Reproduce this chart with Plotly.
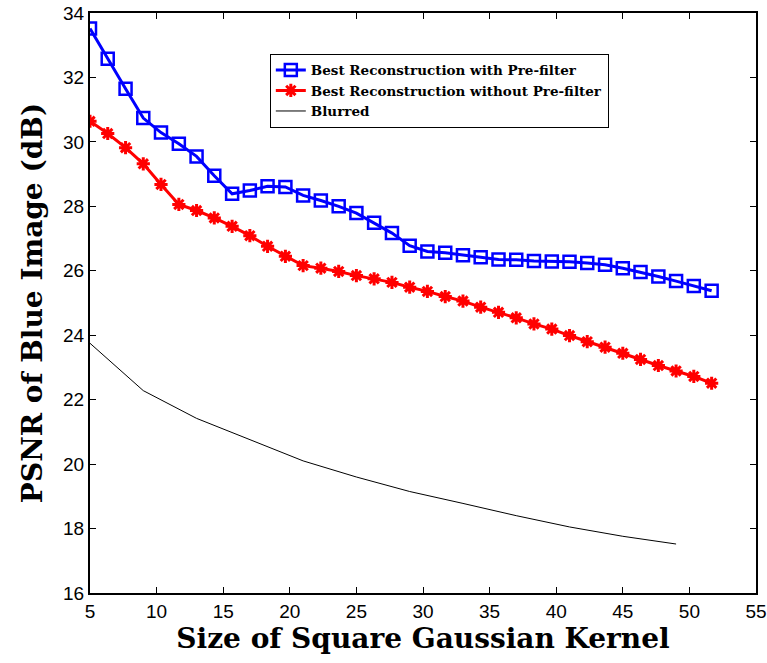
import plotly.graph_objects as go

kernel_size = [5, 6.33, 7.67, 9, 10.33, 11.67, 13, 14.33, 15.67, 17, 18.33, 19.67,
               21, 22.33, 23.67, 25, 26.33, 27.67, 29, 30.33, 31.67, 33, 34.33, 35.67,
               37, 38.33, 39.67, 41, 42.33, 43.67, 45, 46.33, 47.67, 49, 50.33, 51.67]

psnr_with_prefilter = [33.52, 32.58, 31.65, 30.74, 30.29, 29.94, 29.55, 28.95, 28.39, 28.49, 28.62, 28.60,
                       28.34, 28.18, 28.00, 27.79, 27.49, 27.17, 26.78, 26.60, 26.56, 26.48, 26.42, 26.35,
                       26.34, 26.30, 26.29, 26.28, 26.24, 26.19, 26.08, 25.96, 25.82, 25.68, 25.53, 25.38]

psnr_without_prefilter = [30.64, 30.26, 29.82, 29.32, 28.68, 28.06, 27.87, 27.64, 27.38, 27.09, 26.76, 26.45,
                          26.16, 26.08, 25.98, 25.85, 25.75, 25.64, 25.49, 25.36, 25.20, 25.06, 24.87, 24.71,
                          24.54, 24.35, 24.19, 23.99, 23.80, 23.63, 23.44, 23.25, 23.06, 22.89, 22.72, 22.51]

blurred_size = [5, 9, 13, 17, 21, 25, 29, 33, 37, 41, 45, 49]
psnr_blurred = [23.75, 22.28, 21.42, 20.77, 20.10, 19.60, 19.15, 18.78, 18.40, 18.05, 17.76, 17.52]

x_ticks = [5, 10, 15, 20, 25, 30, 35, 40, 45, 50, 55]
y_ticks = [16, 18, 20, 22, 24, 26, 28, 30, 32, 34]

fig = go.Figure()
fig.add_trace(go.Scatter(
    x=kernel_size, y=psnr_with_prefilter, mode="lines+markers",
    name="Best Reconstruction with Pre-filter",
    line=dict(color="#0000ff", width=3),
    marker=dict(symbol="square-open", size=12, color="#0000ff", line=dict(width=2.5, color="#0000ff")),
))
fig.add_trace(go.Scatter(
    x=kernel_size, y=psnr_without_prefilter, mode="lines+markers",
    name="Best Reconstruction without Pre-filter",
    line=dict(color="#ff0000", width=3),
    marker=dict(symbol="asterisk-open", size=11, color="#ff0000", line=dict(width=3, color="#ff0000")),
))
fig.add_trace(go.Scatter(
    x=blurred_size, y=psnr_blurred, mode="lines",
    name="Blurred",
    line=dict(color="#000000", width=1),
))

axis_common = dict(
    showgrid=False, zeroline=False, showline=True, linecolor="black", linewidth=2,
    ticks="inside", ticklen=6, tickwidth=1, tickcolor="black", mirror="ticks",
    automargin=False,
    tickfont=dict(family="Liberation Sans", size=19, color="black"),
)

title_font = dict(family="DejaVu Serif", size=28, color="black", weight="bold")

fig.update_layout(
    width=767, height=663,
    margin=dict(l=90, r=11, t=13, b=70),
    paper_bgcolor="white", plot_bgcolor="white",
    showlegend=True,
    legend=dict(
        x=0.27, y=0.93, xanchor="left", yanchor="top",
        bgcolor="white", bordercolor="black", borderwidth=1,
        font=dict(family="DejaVu Serif", size=13.5, color="black", weight="bold"),
        tracegroupgap=0, itemwidth=30,
    ),
    xaxis=dict(range=[5, 55], tickvals=x_ticks,
               title=dict(text="Size of Square Gaussian Kernel", font=title_font, standoff=8),
               **axis_common),
    yaxis=dict(range=[16, 34], tickvals=y_ticks,
               title=dict(text="PSNR of Blue Image (dB)", font=title_font, standoff=12),
               **axis_common),
)

# remove the default 8px page margin so the figure fills the window exactly
fig.write_html("out.html", config={"displayModeBar": False},
               post_script="document.body.style.margin='0px';")
